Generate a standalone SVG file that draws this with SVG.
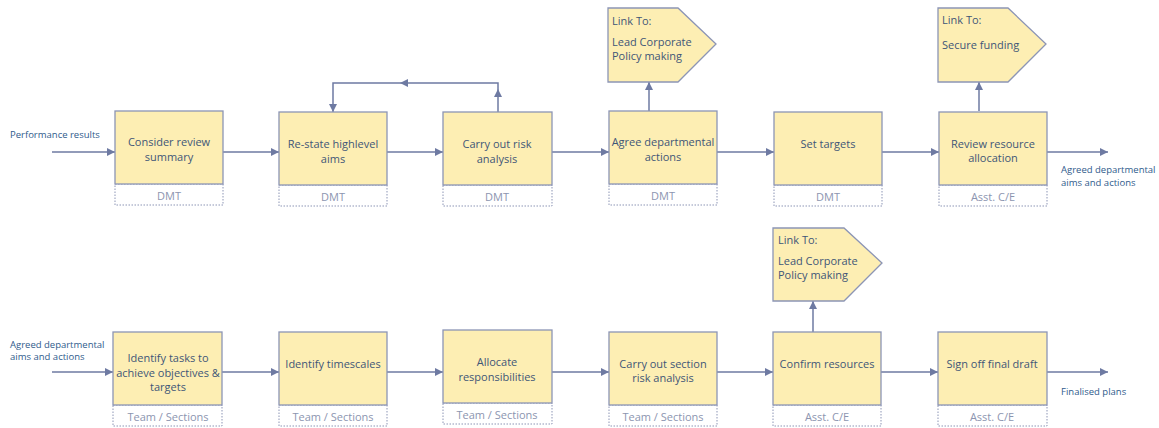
<svg xmlns="http://www.w3.org/2000/svg" width="1159" height="428" viewBox="0 0 1159 428">
<defs>
<marker id="ah" viewBox="0 0 10 10" refX="10" refY="5" markerWidth="9" markerHeight="8" markerUnits="userSpaceOnUse" orient="auto">
<path d="M0,0 L10,5 L0,10 Z" fill="#6e7aa2"/>
</marker>
<style>
.box{fill:#fdeeb3;stroke:#8c95b5;stroke-width:1.3}
.lbl{fill:#fff;stroke:#8c95b5;stroke-width:1;stroke-dasharray:1.5 1.5}
.t{font-family:"Open Sans","Noto Sans",sans-serif;font-size:11px;fill:#3f5677;text-anchor:middle;dominant-baseline:central}
.tl{font-family:"Open Sans","Noto Sans",sans-serif;font-size:11px;fill:#3f5677;dominant-baseline:central}
.g{font-family:"Open Sans","Noto Sans",sans-serif;font-size:11px;fill:#8c95b0;text-anchor:middle;dominant-baseline:central}
.s{font-family:"Open Sans","Noto Sans",sans-serif;font-size:9.5px;fill:#2f5b8c;dominant-baseline:central}
.c{fill:none;stroke:#6e7aa2;stroke-width:1.5}
</style>
</defs>
<g id="connectors">
<path class="c" d="M52,152 H115" marker-end="url(#ah)"/>
<path class="c" d="M223,152 H279" marker-end="url(#ah)"/>
<path class="c" d="M387,152 H443" marker-end="url(#ah)"/>
<path class="c" d="M552,152 H609" marker-end="url(#ah)"/>
<path class="c" d="M717,152 H774" marker-end="url(#ah)"/>
<path class="c" d="M882,152 H939" marker-end="url(#ah)"/>
<path class="c" d="M1047,152 H1108" marker-end="url(#ah)"/>
<path class="c" d="M498,112 V89" marker-end="url(#ah)"/>
<path class="c" d="M498,89 V83 H400" marker-end="url(#ah)"/>
<path class="c" d="M400,83 H333 V112" marker-end="url(#ah)"/>
<path class="c" d="M649,111 V82" marker-end="url(#ah)"/>
<path class="c" d="M979,111 V82" marker-end="url(#ah)"/>
<path class="c" d="M52,372 H113" marker-end="url(#ah)"/>
<path class="c" d="M222,372 H279" marker-end="url(#ah)"/>
<path class="c" d="M387,372 H443" marker-end="url(#ah)"/>
<path class="c" d="M552,372 H609" marker-end="url(#ah)"/>
<path class="c" d="M717,372 H773" marker-end="url(#ah)"/>
<path class="c" d="M881,372 H938" marker-end="url(#ah)"/>
<path class="c" d="M1047,372 H1108" marker-end="url(#ah)"/>
<path class="c" d="M813,332 V301" marker-end="url(#ah)"/>
</g>
<g id="side-labels">
<text class="s" x="10" y="134">Performance results</text>
<text class="s" x="1061" y="169">Agreed departmental</text>
<text class="s" x="1061" y="182">aims and actions</text>
<text class="s" x="10" y="344">Agreed departmental</text>
<text class="s" x="10" y="356">aims and actions</text>
<text class="s" x="1061" y="391">Finalised plans</text>
</g>
<g id="n1">
<rect class="lbl" x="115" y="184" width="108" height="21"/>
<rect class="box" x="115" y="111" width="108" height="73"/>
<text class="t" x="169" y="141">Consider review</text>
<text class="t" x="169" y="156">summary</text>
<text class="g" x="169" y="195">DMT</text>
</g>
<g id="n2">
<rect class="lbl" x="279" y="185" width="108" height="21"/>
<rect class="box" x="279" y="112" width="108" height="73"/>
<text class="t" x="333" y="143">Re-state highlevel</text>
<text class="t" x="333" y="158">aims</text>
<text class="g" x="333" y="196">DMT</text>
</g>
<g id="n3">
<rect class="lbl" x="443" y="185" width="109" height="21"/>
<rect class="box" x="443" y="112" width="109" height="73"/>
<text class="t" x="497" y="143">Carry out risk</text>
<text class="t" x="497" y="158">analysis</text>
<text class="g" x="497" y="196">DMT</text>
</g>
<g id="n4">
<rect class="lbl" x="609" y="184" width="108" height="21"/>
<rect class="box" x="609" y="111" width="108" height="73"/>
<text class="t" x="663" y="141">Agree departmental</text>
<text class="t" x="663" y="156">actions</text>
<text class="g" x="663" y="195">DMT</text>
</g>
<g id="n5">
<rect class="lbl" x="774" y="185" width="108" height="21"/>
<rect class="box" x="774" y="112" width="108" height="73"/>
<text class="t" x="828" y="143">Set targets</text>
<text class="g" x="828" y="196">DMT</text>
</g>
<g id="n6">
<rect class="lbl" x="939" y="185" width="108" height="21"/>
<rect class="box" x="939" y="112" width="108" height="73"/>
<text class="t" x="993" y="143">Review resource</text>
<text class="t" x="993" y="157">allocation</text>
<text class="g" x="993" y="196">Asst. C/E</text>
</g>
<g id="link1">
<path class="box" d="M608,8 H678 L716,44 L678,82 H608 Z"/>
<text class="tl" x="612" y="20">Link To:</text>
<text class="tl" x="612" y="41">Lead Corporate</text>
<text class="tl" x="612" y="55">Policy making</text>
</g>
<g id="link2">
<path class="box" d="M938,8 H1008 L1046,44 L1008,82 H938 Z"/>
<text class="tl" x="942" y="19">Link To:</text>
<text class="tl" x="942" y="44">Secure funding</text>
</g>
<g id="n7">
<rect class="lbl" x="113" y="405" width="109" height="21"/>
<rect class="box" x="113" y="332" width="109" height="73"/>
<text class="t" x="168" y="357">Identify tasks to</text>
<text class="t" x="168" y="372">achieve objectives &amp;</text>
<text class="t" x="168" y="386">targets</text>
<text class="g" x="168" y="416">Team / Sections</text>
</g>
<g id="n8">
<rect class="lbl" x="279" y="405" width="108" height="21"/>
<rect class="box" x="279" y="332" width="108" height="73"/>
<text class="t" x="333" y="363">Identify timescales</text>
<text class="g" x="333" y="416">Team / Sections</text>
</g>
<g id="n9">
<rect class="lbl" x="443" y="403" width="109" height="21"/>
<rect class="box" x="443" y="330" width="109" height="73"/>
<text class="t" x="497" y="361">Allocate</text>
<text class="t" x="497" y="376">responsibilities</text>
<text class="g" x="497" y="414">Team / Sections</text>
</g>
<g id="n10">
<rect class="lbl" x="609" y="405" width="108" height="21"/>
<rect class="box" x="609" y="332" width="108" height="73"/>
<text class="t" x="663" y="363">Carry out section</text>
<text class="t" x="663" y="377">risk analysis</text>
<text class="g" x="663" y="416">Team / Sections</text>
</g>
<g id="n11">
<rect class="lbl" x="773" y="405" width="108" height="21"/>
<rect class="box" x="773" y="332" width="108" height="73"/>
<text class="t" x="827" y="363">Confirm resources</text>
<text class="g" x="827" y="416">Asst. C/E</text>
</g>
<g id="n12">
<rect class="lbl" x="938" y="405" width="109" height="21"/>
<rect class="box" x="938" y="332" width="109" height="73"/>
<text class="t" x="992" y="363">Sign off final draft</text>
<text class="g" x="992" y="416">Asst. C/E</text>
</g>
<g id="link3">
<path class="box" d="M773,228 H844 L882,263 L844,301 H773 Z"/>
<text class="tl" x="778" y="239">Link To:</text>
<text class="tl" x="778" y="260">Lead Corporate</text>
<text class="tl" x="778" y="274">Policy making</text>
</g>
</svg>
